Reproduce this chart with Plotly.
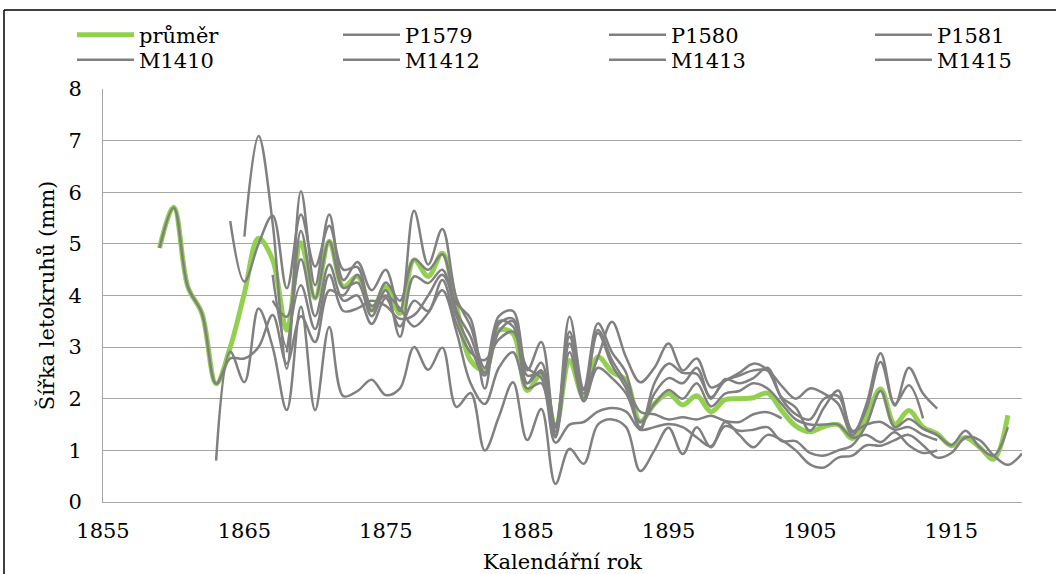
import plotly.graph_objects as go

years = list(range(1859, 1921))

prumer = [4.92, 5.71, 4.17, 3.65, 2.29, 3.00, 4.04, 5.11, 4.69, 3.33,
          5.02, 3.95, 5.05, 4.17, 4.37, 3.72, 4.17, 3.65, 4.69, 4.37,
          4.82, 3.78, 2.74, 2.55, 3.33, 3.26, 2.16, 2.48, 1.45, 2.74,
          2.03, 2.81, 2.52, 2.36, 1.56, 1.90, 2.10, 1.88, 2.06, 1.75,
          1.98, 2.00, 2.02, 2.11, 1.77, 1.47, 1.36, 1.46, 1.50, 1.23,
          1.65, 2.19, 1.51, 1.77, 1.45, 1.32, 1.09, 1.25, 1.06, 0.83,
          1.68, None]

P1579 = [4.92, 5.70, 4.17, 3.65, 2.29, 2.78, 2.78, 3.00, 3.62, 2.68,
         3.60, 3.10, 4.10, 4.00, 4.40, 3.80, 4.00, 3.75, 3.40, 3.66,
         4.10, 3.30, 2.30, 1.90, 2.60, 2.90, 2.20, 2.30, 1.15, 1.50,
         1.55, 1.75, 1.82, 1.75, 1.40, 1.45, 1.51, 1.45, 1.25, 1.08,
         1.47, 1.38, 1.40, 1.45, 1.18, 1.18, 0.95, 0.90, 1.00, 1.10,
         1.50, 2.15, 1.45, 1.61, 1.42, 1.30, 1.10, 1.38, 1.06, 0.90,
         1.45, None]

P1580 = [None, None, None, None, 0.80, 2.91, 2.32, 3.75, 3.00, 1.78,
         3.78, 1.78, 3.39, 2.05, 2.15, 2.37, 2.07, 2.20, 3.00, 2.56,
         2.99, 1.84, 2.11, 1.00, 1.65, 2.32, 1.20, 1.80, 0.35, 1.03,
         0.74, 1.50, 1.60, 1.45, 0.60, 1.00, 1.44, 0.93, 1.45, 1.06,
         1.55, 1.30, 1.06, 1.30, 1.20, 1.00, 0.73, 0.67, 0.86, 0.90,
         1.10, 1.09, 1.20, 1.30, 1.10, 0.86, 0.95, 1.25, 1.20, 0.90,
         0.72, 0.94]

P1581 = [None, None, None, None, None, 5.44, 4.27, 5.00, 5.55, 4.14,
         5.57, 4.56, 5.35, 4.50, 4.55, 3.70, 4.25, 3.90, 4.70, 4.50,
         4.80, 3.70, 3.20, 2.50, 3.50, 3.40, 2.30, 2.55, 1.30, 3.07,
         2.10, 3.27, 2.65, 2.20, 1.45, 2.10, 2.40, 2.30, 2.60, 2.00,
         2.38, 2.30, 2.40, 2.60, 2.00, 1.70, 1.60, 2.00, 2.05, 1.35,
         1.80, 2.71, 1.90, 2.26, 1.62, None, None, None, None, None,
         None, None]

M1410 = [None, None, None, None, None, None, 5.14, 7.09, 5.40, 2.58,
         6.02, 4.20, 5.57, 4.30, 4.65, 4.10, 4.50, 3.70, 5.64, 4.60,
         5.29, 3.95, 3.40, 2.60, 3.60, 3.70, 2.55, 3.10, 1.36, 3.59,
         2.20, 3.46, 2.90, 2.50, 1.40, 2.30, 2.68, 2.50, 2.48, 2.03,
         2.35, 2.45, 2.55, 2.55, 2.25, 2.00, 2.20, 2.10, 1.90, 1.30,
         1.90, 2.88, 1.87, 2.60, 2.10, 1.81, None, None, None, None,
         None, None]

M1412 = [None, None, None, None, None, None, None, None, 4.40, 3.00,
         5.25, 3.95, 5.05, 4.15, 4.25, 3.60, 4.10, 3.20, 4.37, 4.24,
         4.50, 3.60, 3.00, 2.45, 3.30, 3.50, 2.30, 2.70, 1.50, 3.20,
         2.00, 3.33, 2.75, 2.30, 1.75, 1.70, 1.60, 1.64, 1.60, 1.67,
         1.57, 1.55, 1.70, 1.74, 1.62, None, None, None, None, None,
         None, None, None, None, None, None, None, None, None, None,
         None, None]

M1413 = [None, None, None, None, None, None, None, None, 3.90, 3.59,
         4.70, 3.60, 4.60, 3.90, 4.00, 3.45, 3.95, 3.40, 3.90, 3.70,
         4.30, 3.45, 2.90, 2.75, 3.15, 3.30, 2.60, 2.40, 1.45, 3.30,
         2.17, 2.80, 3.49, 2.80, 2.32, 2.60, 3.07, 2.55, 2.78, 2.22,
         2.35, 2.50, 2.68, 2.55, 2.03, 1.83, 1.38, 1.83, 2.16, 1.38,
         1.50, 1.55, 1.40, 1.45, 1.30, 1.20, None, None, None, None,
         None, None]

M1415 = [None, None, None, None, None, None, None, None, None, 2.90,
         4.20, 3.35, 4.40, 3.70, 3.75, 3.90, 3.80, 3.55, 3.62, 4.00,
         4.40, 3.85, 3.55, 2.20, 3.45, 3.55, 2.45, 2.50, 1.25, 2.90,
         1.95, 2.60, 2.40, 2.10, 1.55, 1.90, 2.17, 2.00, 2.30, 1.85,
         2.10, 2.15, 2.30, 2.20, 1.90, 1.60, 1.50, 1.50, 1.50, 1.25,
         1.30, 1.16, 1.35, 1.10, 0.95, 1.00, None, None, None, None,
         None, None]

grey_series = [("P1579", P1579), ("P1580", P1580), ("P1581", P1581),
               ("M1410", M1410), ("M1412", M1412), ("M1413", M1413),
               ("M1415", M1415)]

x_ticks = [1855, 1865, 1875, 1885, 1895, 1905, 1915]
y_ticks = [0, 1, 2, 3, 4, 5, 6, 7, 8]

FONT = "DejaVu Serif"
FS = 21
GREEN = "#92D050"
GREY = "#808080"
GRID = "#A6A6A6"

L, R, T, B = 103, 34, 89, 72
W, H = 1056, 574
pw, ph = W - L - R, H - T - B

def px_to_paper_x(px):
    return (px - L) / pw

def px_to_paper_y(py):
    return (H - B - py) / ph

# legend slots: 4 columns x 2 rows (left pixel of each entry, row centre)
col_px = [72, 338, 604, 870]
row_px = [35, 60]

fig = go.Figure()
fig.add_trace(go.Scatter(x=years, y=prumer, name="průměr", mode="lines", legend="legend",
                         line=dict(color=GREEN, width=5, shape="spline", smoothing=1)))
for i, (name, vals) in enumerate(grey_series):
    fig.add_trace(go.Scatter(x=years, y=vals, name=name, mode="lines",
                             legend="legend%d" % (i + 2),
                             line=dict(color=GREY, width=2.5, shape="spline", smoothing=1)))

legends = {}
for i in range(8):
    key = "legend" if i == 0 else "legend%d" % (i + 1)
    legends[key] = dict(orientation="v", x=px_to_paper_x(col_px[i % 4]), xanchor="left",
                        y=px_to_paper_y(row_px[i // 4]), yanchor="middle", itemwidth=57,
                        font=dict(family=FONT, size=FS, color="black"),
                        bgcolor="rgba(0,0,0,0)", borderwidth=0)

fig.update_layout(
    width=W, height=H,
    margin=dict(l=L, r=R, t=T, b=B, autoexpand=False),
    paper_bgcolor="white", plot_bgcolor="white",
    font=dict(family=FONT, size=FS, color="black"),
    showlegend=True,
    xaxis=dict(range=[1855, 1920], tickvals=x_ticks, ticktext=[str(v) for v in x_ticks],
               showgrid=False, showline=True, linecolor=GRID, linewidth=1,
               zeroline=False, ticks="", ticklabelstandoff=10, automargin=False,
               tickfont=dict(family=FONT, size=FS, color="black"),
               title=dict(text="Kalendářní rok", standoff=12,
                          font=dict(family=FONT, size=FS, color="black"))),
    yaxis=dict(range=[0, 8], tickvals=y_ticks, showgrid=True, gridcolor=GRID, gridwidth=1,
               showline=True, linecolor=GRID, linewidth=1, zeroline=False, ticks="",
               ticklabelstandoff=16, automargin=False,
               tickfont=dict(family=FONT, size=FS, color="black"),
               title=dict(text="Šířka letokruhů (mm)", standoff=8,
                          font=dict(family=FONT, size=FS, color="black"))),
    shapes=[
        dict(type="line", xref="paper", yref="paper",
             x0=px_to_paper_x(4), x1=px_to_paper_x(4),
             y0=px_to_paper_y(10), y1=px_to_paper_y(580),
             line=dict(color="black", width=1.5)),
        dict(type="line", xref="paper", yref="paper",
             x0=px_to_paper_x(4), x1=px_to_paper_x(1060),
             y0=px_to_paper_y(10), y1=px_to_paper_y(10),
             line=dict(color="black", width=1.5)),
    ],
    **legends,
)

fig.write_html("out.html",
               config={"displayModeBar": False},
               post_script="document.body.style.margin='0';document.body.style.overflow='hidden';")
